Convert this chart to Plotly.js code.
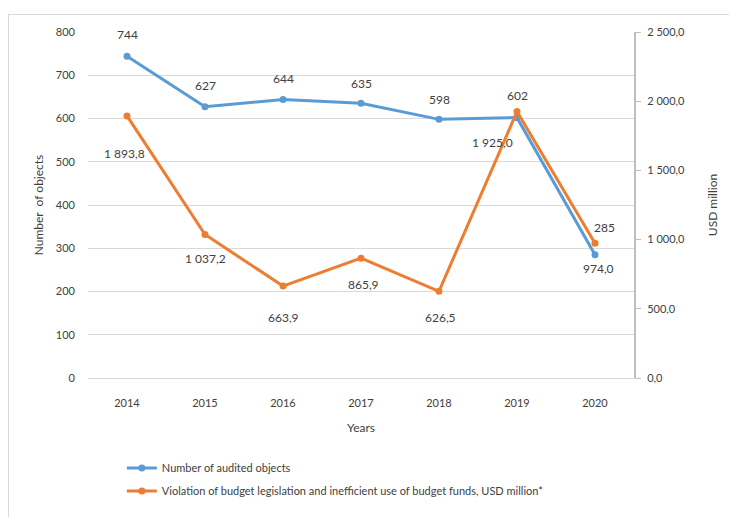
<!DOCTYPE html>
<html>
<head>
<meta charset="utf-8">
<script src="https://cdn.plot.ly/plotly-3.0.1.min.js"></script>
<style>
html,body{margin:0;padding:0;background:#fff;}
#frame{position:absolute;left:8px;top:14px;width:740px;height:520px;border:1px solid #d9d9d9;box-sizing:border-box;}
#chart{position:absolute;left:0;top:0;width:729px;height:517px;}
</style>
</head>
<body>
<div id="frame"></div>
<div id="chart"></div>
<script>
const years = ['2014','2015','2016','2017','2018','2019','2020'];
const audited = [744, 627, 644, 635, 598, 602, 285];
const violations = [1893.8, 1037.2, 663.9, 865.9, 626.5, 1925.0, 974.0];
const auditedLabels = ['744','627','644','635','598','602','285'];
const violationLabels = ['1 893,8','1 037,2','663,9','865,9','626,5','1 925,0','974,0'];
const rightTickVals = [0, 500, 1000, 1500, 2000, 2500];
const rightTickText = ['0,0','500,0','1 000,0','1 500,0','2 000,0','2 500,0'];

// label offsets (style only, pixels)
const auditedShiftY = [22, 21, 21, 20, 20, 22, 27];
const auditedShiftX = [0, 0, 0, 0, 0, 0, 9];
const violShiftY = [-38, -24, -31, -26, -26, -31, -25];
const violShiftX = [-3, 0, 0, 2, 1, -25, 3];

const fam = 'Lato, "Liberation Sans", sans-serif';
const txt = '#404040';
const font = {family: fam, size: 12, color: txt};

const traces = [
  {
    x: years, y: audited, type: 'scatter', mode: 'lines+markers',
    name: 'Number of audited objects', legendgroup: 'a',
    line: {color: '#5B9BD5', width: 3},
    marker: {color: '#5B9BD5', size: 7}
  },
  {
    x: years, y: violations, type: 'scatter', mode: 'lines+markers',
    name: 'Violation of budget legislation and inefficient use of budget funds, USD million*',
    legendgroup: 'b',
    yaxis: 'y2',
    line: {color: '#ED7D31', width: 3},
    marker: {color: '#ED7D31', size: 7}
  }
];

const annotations = [];
years.forEach((yr, i) => {
  annotations.push({x: i, y: audited[i], xref: 'x', yref: 'y', text: auditedLabels[i],
    showarrow: false, xshift: auditedShiftX[i], yshift: auditedShiftY[i],
    font: {family: fam, size: 12, color: txt}});
  annotations.push({x: i, y: violations[i], xref: 'x', yref: 'y2', text: violationLabels[i],
    showarrow: false, xshift: violShiftX[i], yshift: violShiftY[i],
    font: {family: fam, size: 12, color: txt}});
});

const layout = {
  width: 729, height: 517,
  margin: {l: 88, r: 95, t: 32, b: 137},
  paper_bgcolor: 'rgba(0,0,0,0)', plot_bgcolor: 'rgba(0,0,0,0)',
  font: font,
  showlegend: true,
  annotations: annotations,
  legend: {
    x: 0.062, y: -0.218, xanchor: 'left', yanchor: 'top',
    orientation: 'v', font: {family: fam, size: 11, color: txt},
    tracegroupgap: 4
  },
  xaxis: {
    type: 'category', range: [-0.5, 6.5],
    showgrid: false, zeroline: false,
    showline: true, linecolor: '#d9d9d9', linewidth: 1,
    ticks: '', ticklabelstandoff: 15,
    tickfont: {family: fam, size: 11, color: txt},
    title: {text: 'Years', font: {family: fam, size: 12, color: txt}, standoff: 15}
  },
  yaxis: {
    range: [0, 800], dtick: 100,
    showgrid: true, gridcolor: '#d9d9d9', gridwidth: 1,
    zeroline: false, showline: false, ticks: '', ticklabelstandoff: 12,
    tickfont: {family: fam, size: 11, color: txt},
    title: {text: 'Number  of objects', font: {family: fam, size: 12, color: txt}, standoff: 9}
  },
  yaxis2: {
    overlaying: 'y', side: 'right', range: [0, 2500],
    tickvals: rightTickVals, ticktext: rightTickText,
    showgrid: false, zeroline: false,
    showline: true, linecolor: '#bfbfbf', linewidth: 2,
    ticks: 'outside', ticklen: 5, tickcolor: '#bfbfbf', ticklabelstandoff: 4,
    tickfont: {family: fam, size: 11, color: txt},
    title: {text: 'USD million', font: {family: fam, size: 12, color: txt}, standoff: 25}
  }
};

Plotly.newPlot('chart', traces, layout, {displayModeBar: false, staticPlot: true});
</script>
</body>
</html>
